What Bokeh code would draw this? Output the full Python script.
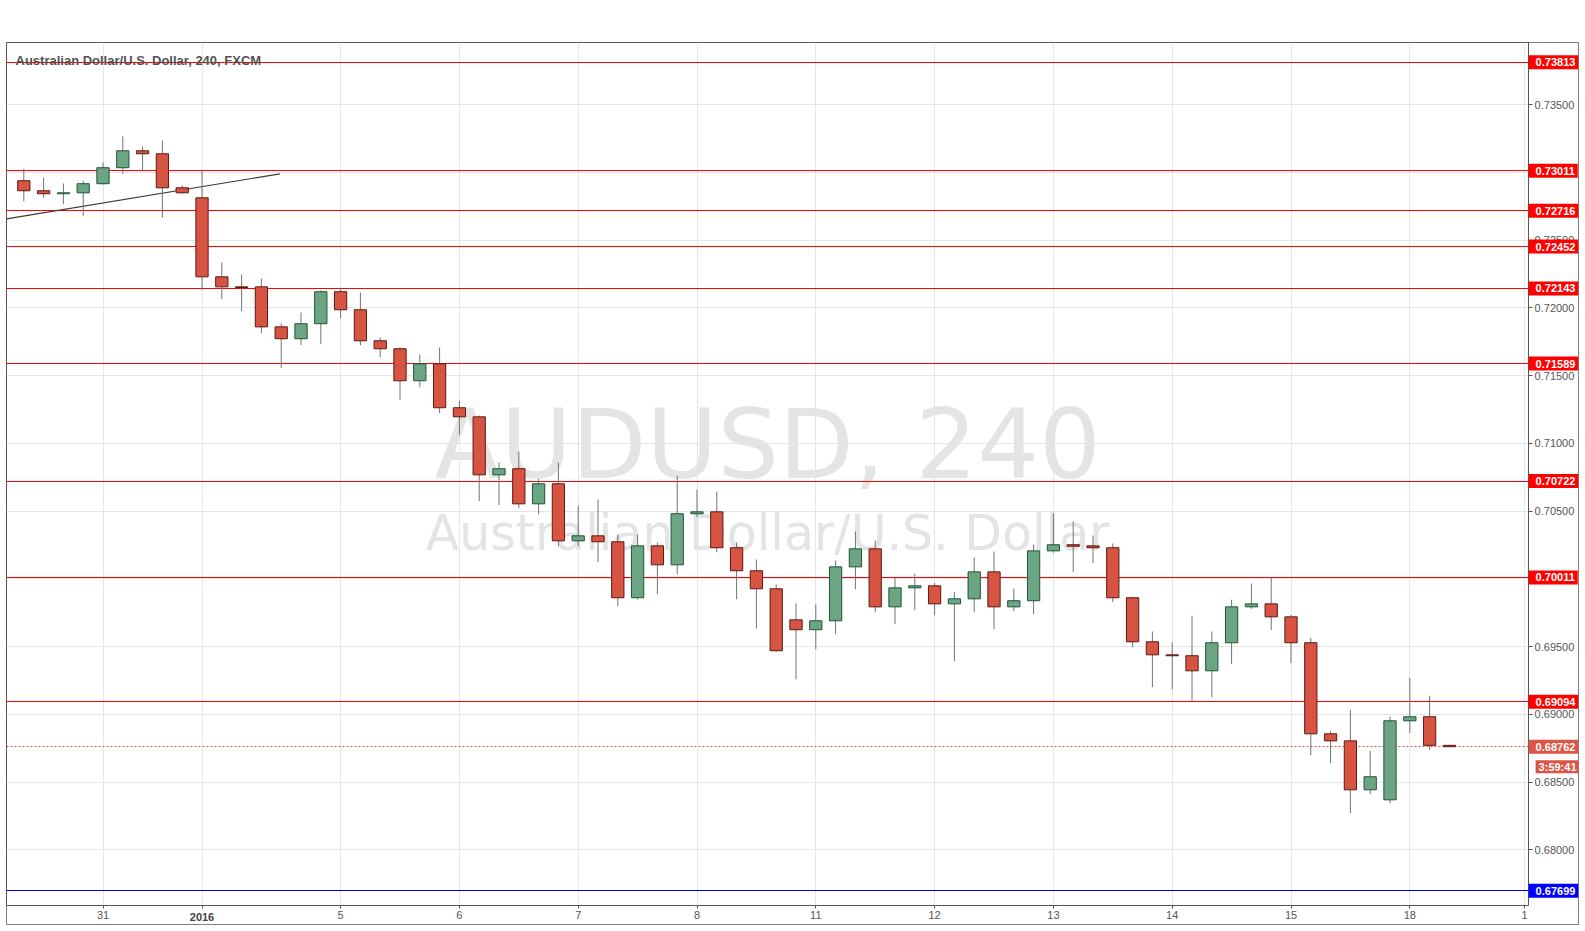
import numpy as np
from bokeh.plotting import figure
from bokeh.models import ColumnDataSource, FixedTicker, NumeralTickFormatter, Label, Range1d
from bokeh.embed import file_html
from bokeh.resources import INLINE

# ---- data (AUDUSD, 4h candles) ----
opens = [0.72938, 0.72864, 0.72842, 0.72849, 0.72916, 0.73034, 0.73159, 0.73137, 0.72886, 0.72812,
         0.72229, 0.72155, 0.72155, 0.71860, 0.71772, 0.71883, 0.72119, 0.71986, 0.71757, 0.71698,
         0.71462, 0.71587, 0.71263, 0.71196, 0.70768, 0.70813, 0.70554, 0.70702, 0.70281, 0.70318,
         0.70274, 0.69861, 0.70244, 0.70104, 0.70481, 0.70495, 0.70230, 0.70060, 0.69927, 0.69698,
         0.69625, 0.69691, 0.70089, 0.70222, 0.69794, 0.69934, 0.69949, 0.69816, 0.69853, 0.70052,
         0.69794, 0.69839, 0.70207, 0.70252, 0.70244, 0.70230, 0.69861, 0.69536, 0.69440, 0.69433,
         0.69322, 0.69529, 0.69794, 0.69816, 0.69720, 0.69529, 0.68857, 0.68805, 0.68444, 0.68370,
         0.68953, 0.68983, 0.68772]
highs = [0.73026, 0.72962, 0.72918, 0.72938, 0.73073, 0.73265, 0.73191, 0.73235, 0.72903, 0.73011,
         0.72335, 0.72246, 0.72217, 0.71885, 0.71966, 0.72128, 0.72148, 0.72113, 0.71781, 0.71708,
         0.71656, 0.71708, 0.71317, 0.71206, 0.70859, 0.70940, 0.70739, 0.70859, 0.70542, 0.70586,
         0.70328, 0.70328, 0.70269, 0.70763, 0.70660, 0.70645, 0.70269, 0.70143, 0.69959, 0.69819,
         0.69811, 0.70136, 0.70350, 0.70284, 0.70008, 0.70038, 0.69971, 0.69905, 0.70158, 0.70202,
         0.69929, 0.70254, 0.70483, 0.70424, 0.70320, 0.70261, 0.69868, 0.69612, 0.69531, 0.69728,
         0.69612, 0.69846, 0.69966, 0.70010, 0.69735, 0.69565, 0.68879, 0.69034, 0.68732, 0.68983,
         0.69270, 0.69138, 0.68772]
lows = [0.72787, 0.72812, 0.72765, 0.72679, 0.72910, 0.72989, 0.73011, 0.72665, 0.72842, 0.72133,
        0.72064, 0.71975, 0.71813, 0.71555, 0.71725, 0.71732, 0.71924, 0.71725, 0.71636, 0.71320,
        0.71415, 0.71223, 0.71061, 0.70574, 0.70544, 0.70522, 0.70478, 0.70241, 0.70241, 0.70123,
        0.69799, 0.69848, 0.69887, 0.70035, 0.70455, 0.70197, 0.69850, 0.69634, 0.69465, 0.69260,
        0.69481, 0.69592, 0.69924, 0.69754, 0.69666, 0.69769, 0.69732, 0.69393, 0.69754, 0.69629,
        0.69762, 0.69740, 0.70193, 0.70050, 0.70116, 0.69828, 0.69496, 0.69201, 0.69186, 0.69096,
        0.69127, 0.69371, 0.69780, 0.69622, 0.69378, 0.68699, 0.68640, 0.68271, 0.68412, 0.68345,
        0.68862, 0.68739, 0.68760]
closes = [0.72864, 0.72842, 0.72849, 0.72916, 0.73034, 0.73159, 0.73137, 0.72886, 0.72849, 0.72229,
          0.72155, 0.72150, 0.71860, 0.71772, 0.71883, 0.72119, 0.71986, 0.71757, 0.71698, 0.71462,
          0.71587, 0.71263, 0.71196, 0.70768, 0.70813, 0.70554, 0.70702, 0.70281, 0.70318, 0.70274,
          0.69861, 0.70244, 0.70104, 0.70481, 0.70495, 0.70230, 0.70060, 0.69927, 0.69470, 0.69625,
          0.69691, 0.70089, 0.70222, 0.69794, 0.69934, 0.69949, 0.69816, 0.69853, 0.70052, 0.69794,
          0.69839, 0.70207, 0.70252, 0.70241, 0.70230, 0.69861, 0.69536, 0.69440, 0.69433, 0.69322,
          0.69529, 0.69794, 0.69816, 0.69720, 0.69529, 0.68857, 0.68805, 0.68444, 0.68540, 0.68953,
          0.68983, 0.68772, 0.68762]

level_prices = [0.73813, 0.73011, 0.72716, 0.72452, 0.72143, 0.71589, 0.70722, 0.70011, 0.69094]
support_price = 0.67699
last_price = 0.68762
countdown = "3:59:41"
trend_x = [-0.87, 12.93]
trend_y = [0.72657, 0.72989]

y_ticks = [0.680, 0.685, 0.690, 0.695, 0.700, 0.705, 0.710, 0.715, 0.720, 0.725, 0.730, 0.735]
x_tick_pos = [4, 9, 16, 22, 28, 34, 40, 46, 52, 58, 64, 70, 75.8]
x_tick_labels = ["31", "2016", "5", "6", "7", "8", "11", "12", "13", "14", "15", "18", "1"]

title_text = "Australian Dollar/U.S. Dollar, 240, FXCM"
watermark_main = "AUDUSD, 240"
watermark_sub = "Australian Dollar/U.S. Dollar"

# ---- layout / styling ----
UP_FILL, UP_LINE = "#6ba583", "#225437"
DN_FILL, DN_LINE = "#d75442", "#5b1a13"
WICK = "#737375"
AXIS = "#555555"
GRID = "#e6e6e6"
FONT = "Liberation Sans"

X_EDGE = 76.0        # where the price scale sits (right end of the chart pane)
Y_BOTTOM = 0.67590   # where the time scale sits (bottom of the chart pane)

o = np.array(opens); c = np.array(closes)
up = c > o
src = ColumnDataSource(dict(
    x=np.arange(len(opens)),
    high=highs, low=lows,
    top=np.maximum(o, c), bottom=np.minimum(o, c),
    fill=np.where(up, UP_FILL, DN_FILL), line=np.where(up, UP_LINE, DN_LINE),
))

xr = Range1d(-0.874, 78.52)
yr = Range1d(0.67450, 0.73958)
p = figure(width=1579, height=925, x_range=xr, y_range=yr, y_axis_location="right",
           output_backend="svg", toolbar_location=None,
           min_border_left=6, min_border_right=1, min_border_top=42, min_border_bottom=1,
           background_fill_color="white", border_fill_color="white",
           outline_line_color=AXIS, outline_line_width=1)

# watermark
xc = (xr.start + X_EDGE) / 2
yc = (Y_BOTTOM + yr.end) / 2
p.add_layout(Label(x=xc, y=yc, y_offset=30, text=watermark_main, text_align="center",
                   text_baseline="alphabetic", text_font="DejaVu Sans", text_font_size="97px",
                   text_color="#e4e4e4", level="underlay"))
p.add_layout(Label(x=xc, y=yc, y_offset=-59, text=watermark_sub, text_align="center",
                   text_baseline="alphabetic", text_font="DejaVu Sans", text_font_size="49px",
                   text_color="#e4e4e4", level="underlay"))

# horizontal levels
p.hspan(y=level_prices, line_color="#ff0000", line_width=1)
p.hspan(y=[support_price], line_color="#0000ff", line_width=1)
p.hspan(y=[last_price], line_color="#e0513f", line_width=1, line_dash="2 2")

# trend line
p.line(trend_x, trend_y, line_color="#3a3a3a", line_width=1.2)

# candles
p.segment(x0="x", y0="high", x1="x", y1="low", source=src, line_color=WICK, line_width=1)
p.vbar(x="x", width=0.62, top="top", bottom="bottom", source=src,
       fill_color="fill", line_color="line", line_width=1)

# blank the scale areas (right price scale, bottom time scale)
p.quad(left=[X_EDGE], right=[xr.end], bottom=[yr.start], top=[yr.end],
       fill_color="white", line_color=None)
p.quad(left=[xr.start], right=[X_EDGE], bottom=[yr.start], top=[Y_BOTTOM],
       fill_color="white", line_color=None)

# axes
p.xaxis.fixed_location = Y_BOTTOM
p.xaxis.bounds = (xr.start, X_EDGE)
p.xaxis.ticker = FixedTicker(ticks=x_tick_pos)
overrides = {pos: lab for pos, lab in zip(x_tick_pos, x_tick_labels)}
overrides[x_tick_pos[1]] = ""
p.xaxis.major_label_overrides = overrides
p.xaxis.major_label_text_font = FONT
p.xaxis.major_label_text_font_size = "11px"
p.xaxis.major_label_text_color = AXIS
p.xaxis.major_tick_out = 3
p.xaxis.major_tick_in = 0
p.xaxis.minor_tick_line_color = None
p.xaxis.axis_line_color = AXIS
p.xaxis.major_tick_line_color = AXIS
p.xaxis.major_label_standoff = 2

p.yaxis.fixed_location = X_EDGE
p.yaxis.bounds = (Y_BOTTOM, yr.end)
p.yaxis.ticker = FixedTicker(ticks=y_ticks)
p.yaxis.formatter = NumeralTickFormatter(format="0.00000")
p.yaxis.major_label_text_font = FONT
p.yaxis.major_label_text_font_size = "11px"
p.yaxis.major_label_text_color = AXIS
p.yaxis.major_tick_out = 4
p.yaxis.major_tick_in = 0
p.yaxis.minor_tick_line_color = None
p.yaxis.axis_line_color = AXIS
p.yaxis.major_tick_line_color = AXIS
p.yaxis.major_label_standoff = 2

p.xgrid.grid_line_color = GRID
p.ygrid.grid_line_color = GRID

# bold year label on the time axis
p.add_layout(Label(x=x_tick_pos[1], y=Y_BOTTOM, y_offset=-11, text=x_tick_labels[1],
                   text_align="center", text_baseline="middle", text_font=FONT,
                   text_font_size="11px", text_font_style="bold", text_color="#444444"))

# title
p.add_layout(Label(x=xr.start, y=yr.end, x_offset=9, y_offset=-18, text=title_text,
                   text_align="left", text_baseline="alphabetic", text_font=FONT,
                   text_font_size="13px", text_font_style="bold", text_color="#535353"))

# price tags on the price scale
def price_tag(val, bg):
    p.add_layout(Label(x=X_EDGE, y=val, x_offset=0, text=f"{val:.5f}", text_align="left",
                       text_baseline="middle", text_font=FONT, text_font_size="11px",
                       text_font_style="bold", text_color="white", background_fill_color=bg,
                       padding=dict(left=7, right=3, top=3, bottom=3)))

for lv in level_prices:
    price_tag(lv, "#ff0000")
price_tag(support_price, "#0000ff")
price_tag(last_price, "#dd5546")
p.add_layout(Label(x=X_EDGE, y=last_price, x_offset=7, y_offset=-20, text=countdown,
                   text_align="left", text_baseline="middle", text_font=FONT,
                   text_font_size="11px", text_font_style="bold", text_color="white",
                   background_fill_color="#dd5546",
                   padding=dict(left=3, right=3, top=1, bottom=0)))

open("out.html", "w").write(file_html(p, INLINE))
